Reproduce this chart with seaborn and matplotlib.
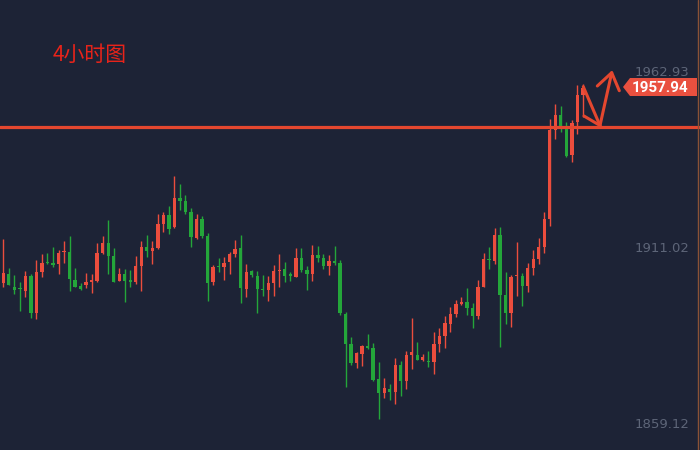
import matplotlib
matplotlib.use("Agg")
import matplotlib.pyplot as plt
import seaborn as sns
import numpy as np
import pandas as pd
from matplotlib.patches import Polygon

# ---- data (4h candles) ----
opens = [1900.4, 1903.0, 1899.1, 1898.6, 1898.0, 1902.4, 1891.6, 1903.5, 1906.5, 1906.2,
         1906.0, 1909.5, 1909.5, 1901.3, 1899.4, 1899.8, 1900.7, 1900.9, 1909.2, 1912.1,
         1908.3, 1900.9, 1903.0, 1900.9, 1900.6, 1905.3, 1910.9, 1909.7, 1910.6, 1917.7,
         1920.4, 1916.8, 1925.4, 1924.5, 1921.2, 1913.6, 1919.2, 1914.2, 1900.6, 1905.3,
         1905.0, 1906.5, 1908.9, 1910.6, 1898.5, 1903.9, 1902.4, 1898.5, 1898.3, 1900.3,
         1903.9, 1904.4, 1902.7, 1902.1, 1907.7, 1904.1, 1903.0, 1908.6, 1907.7, 1905.3,
         1906.8, 1906.2, 1891.2, 1882.3, 1876.7, 1879.4, 1881.7, 1881.1, 1872.0, 1867.9,
         1869.1, 1868.2, 1876.1, 1871.4, 1879.1, 1879.1, 1877.6, 1877.4, 1877.0, 1882.3,
         1884.7, 1888.2, 1891.2, 1894.1, 1894.7, 1892.9, 1890.6, 1899.1, 1907.4, 1906.8,
         1914.5, 1896.8, 1891.5, 1902.4, 1902.4, 1899.4, 1904.7, 1907.4, 1910.9, 1919.2,
         1945.4, 1949.9, 1946.6, 1938.1, 1947.8, 1955.8]
highs = [1913.3, 1904.8, 1902.7, 1900.6, 1903.9, 1903.0, 1907.1, 1908.9, 1909.2, 1910.9,
         1910.0, 1912.7, 1914.2, 1904.7, 1900.3, 1903.3, 1903.0, 1912.1, 1914.2, 1918.9,
         1910.6, 1904.7, 1904.4, 1904.1, 1908.3, 1912.8, 1914.5, 1912.8, 1920.7, 1921.2,
         1923.0, 1931.9, 1929.5, 1926.3, 1922.4, 1920.7, 1920.1, 1915.1, 1905.6, 1907.7,
         1908.0, 1909.5, 1913.0, 1914.5, 1905.9, 1904.1, 1903.9, 1902.7, 1902.4, 1905.6,
         1908.9, 1906.5, 1903.5, 1910.6, 1910.6, 1905.3, 1911.5, 1911.2, 1908.9, 1908.6,
         1911.2, 1907.1, 1891.8, 1884.4, 1880.0, 1882.0, 1885.3, 1882.6, 1877.0, 1872.3,
         1870.5, 1878.2, 1877.3, 1880.3, 1890.0, 1882.9, 1879.4, 1880.3, 1885.9, 1887.0,
         1890.6, 1893.2, 1895.3, 1896.2, 1898.8, 1894.4, 1901.2, 1909.2, 1910.9, 1916.5,
         1916.8, 1903.5, 1902.7, 1912.4, 1903.3, 1906.2, 1910.1, 1913.6, 1921.2, 1948.7,
         1953.1, 1952.5, 1947.8, 1948.4, 1958.7, 1959.0]
lows = [1899.2, 1899.6, 1897.2, 1892.1, 1896.3, 1890.1, 1889.8, 1902.2, 1906.0, 1905.1,
        1903.1, 1906.3, 1898.0, 1899.0, 1898.2, 1898.9, 1897.5, 1900.6, 1909.0, 1903.0,
        1900.5, 1900.8, 1894.7, 1899.1, 1900.0, 1898.0, 1908.1, 1905.9, 1910.4, 1915.3,
        1914.8, 1916.6, 1921.8, 1920.7, 1910.9, 1913.3, 1913.6, 1895.0, 1899.7, 1903.5,
        1901.3, 1903.0, 1908.0, 1894.4, 1896.2, 1902.1, 1891.5, 1896.5, 1895.0, 1896.5,
        1899.1, 1900.6, 1900.9, 1902.0, 1903.5, 1898.3, 1900.9, 1906.5, 1904.4, 1902.7,
        1905.6, 1890.9, 1869.6, 1876.1, 1875.3, 1875.8, 1880.9, 1871.5, 1860.2, 1866.4,
        1865.8, 1864.6, 1867.0, 1869.1, 1875.0, 1877.5, 1877.3, 1875.5, 1873.5, 1880.0,
        1881.1, 1885.9, 1890.3, 1893.8, 1890.9, 1887.0, 1889.7, 1899.0, 1904.4, 1905.9,
        1881.4, 1888.2, 1887.3, 1896.5, 1893.5, 1897.7, 1902.7, 1905.9, 1909.2, 1917.1,
        1942.8, 1944.8, 1937.6, 1936.0, 1944.2, 1949.3]
closes = [1903.4, 1899.8, 1898.3, 1898.4, 1902.4, 1891.6, 1903.5, 1906.2, 1906.1, 1905.5,
          1909.2, 1909.8, 1901.6, 1899.2, 1898.5, 1900.7, 1900.9, 1909.2, 1912.1, 1908.3,
          1900.7, 1903.0, 1900.9, 1900.7, 1905.3, 1910.9, 1909.8, 1910.6, 1917.7, 1920.4,
          1916.2, 1925.4, 1924.5, 1921.2, 1913.9, 1919.2, 1914.2, 1900.3, 1905.0, 1905.0,
          1906.2, 1908.9, 1910.3, 1898.8, 1903.5, 1902.7, 1898.5, 1898.3, 1900.3, 1903.9,
          1904.1, 1902.4, 1902.5, 1907.7, 1904.1, 1903.0, 1908.6, 1907.7, 1905.3, 1906.8,
          1906.2, 1891.5, 1882.3, 1876.7, 1879.7, 1881.7, 1881.1, 1871.7, 1867.9, 1869.4,
          1868.2, 1876.1, 1871.4, 1879.1, 1880.0, 1877.6, 1878.5, 1877.1, 1882.3, 1884.7,
          1888.5, 1891.2, 1894.1, 1894.7, 1892.9, 1890.6, 1899.1, 1907.4, 1907.1, 1914.5,
          1896.8, 1891.5, 1902.1, 1902.7, 1899.4, 1904.7, 1907.4, 1910.9, 1919.2, 1945.4,
          1949.9, 1946.6, 1937.8, 1947.5, 1955.8, 1957.94]
tick_values = [1859.12, 1911.02, 1962.93]
resistance = 1946.23
last_price = 1957.94
title = "4小时图"

# ---- style ----
BG = "#1d2336"
RED = "#eb4d3d"
GREEN = "#24a63a"
LINE = "#e4472f"
sns.set_theme(style="dark", rc={"axes.facecolor": BG, "figure.facecolor": BG})
plt.rcParams['font.family'] = ['Noto Sans CJK SC', 'DejaVu Sans']

df = pd.DataFrame({"open": opens, "high": highs, "low": lows, "close": closes})
df["idx"] = np.arange(len(df))
df["up"] = df["close"] > df["open"]
colors = np.where(df["up"], RED, GREEN)

W, H = 700, 450
fig = plt.figure(figsize=(W / 100, H / 100), dpi=100)
ax = fig.add_axes([0, 0, 1, 1])
ax.set_facecolor(BG)

# wicks and bodies
ax.vlines(df["idx"], df["low"], df["high"], colors=colors, linewidth=1.0, zorder=2)
body_bottom = np.minimum(df["open"], df["close"])
body_h = np.maximum((df["close"] - df["open"]).abs(), 0.35)
ax.bar(df["idx"], body_h, bottom=body_bottom, width=0.6, color=colors, linewidth=0, zorder=3)

# scales
step = 5.52
x0 = 3.3
ax.set_xlim(-x0 / step, -x0 / step + W / step)
ax.set_ylim(1851.06, 1983.77)

# resistance line
ax.axhline(resistance, color=LINE, linewidth=2.3, zorder=4)

# y ticks on right, inside
ax.yaxis.tick_right()
ax.set_yticks(tick_values)
ax.set_yticklabels([f"{v:.2f}" for v in tick_values])
ax.tick_params(axis="y", length=0, pad=-7.5, labelcolor="#5d6578", labelsize=9.5)
for lbl in ax.get_yticklabels():
    lbl.set_horizontalalignment("right")
    lbl.set_family("DejaVu Sans")
ax.set_xticks([])
ax.grid(False)
for s in ax.spines.values():
    s.set_visible(False)


def px(x, y):
    return (x / W, 1 - y / H)


# right border line
ax.plot([698 / W, 698 / W], [0, 1], transform=ax.transAxes, color="#8a5236", linewidth=1.0, zorder=5)

# title
ax.text(*px(90, 55), title, transform=ax.transAxes, color="#e8231a", fontsize=15,
        ha="center", va="center", zorder=6)

# last price tag
tag = Polygon([px(623, 87), px(630, 78), px(697, 78), px(697, 96), px(630, 96)],
              closed=True, transform=ax.transAxes, facecolor="#e9503f", edgecolor="none", zorder=6)
ax.add_patch(tag)
ax.text(*px(688, 87.5), f"{last_price:.2f}", transform=ax.transAxes, color="white",
        fontsize=11, fontweight="bold", family="Roboto", ha="right", va="center", zorder=7)

# hand-drawn arrows
arrow_kw = dict(transform=ax.transAxes, color=LINE, linewidth=2.2, solid_capstyle="round",
                solid_joinstyle="round", zorder=6)
for seg in [[(583.3, 86.7), (600, 125.5)],
            [(584, 116), (600, 125.5)],
            [(600, 125.5), (611.7, 72.7)],
            [(597.3, 86), (611.7, 72.7), (619.3, 90.7)]]:
    xs, ys = zip(*[px(a, b) for a, b in seg])
    ax.plot(xs, ys, **arrow_kw)

fig.savefig("out.png", dpi=100, facecolor=BG)
